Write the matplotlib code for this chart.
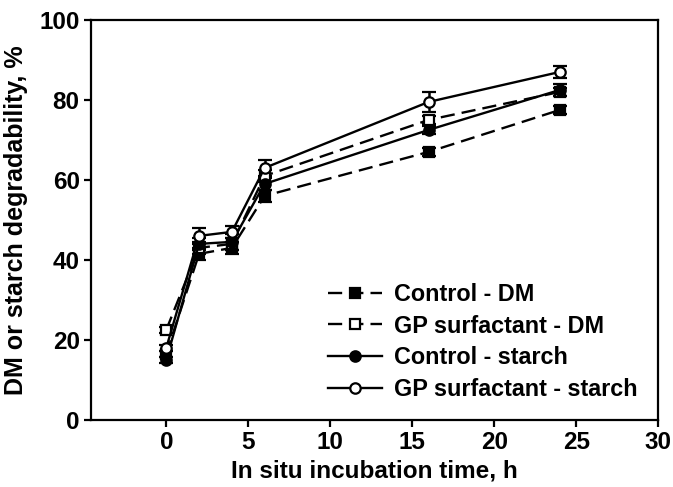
import matplotlib.pyplot as plt
import numpy as np

plt.rcParams['font.family'] = ['Liberation Sans', 'DejaVu Sans']
plt.rcParams['font.weight'] = 'bold'

# incubation times, h
times = [0, 2, 4, 6, 16, 24]

# mean degradability, %
control_dm = [16.5, 41.5, 43.0, 56.0, 67.0, 77.5]
gp_dm = [22.5, 43.0, 44.0, 61.0, 75.0, 82.0]
control_starch = [15.0, 44.0, 44.5, 59.0, 72.5, 82.5]
gp_starch = [18.0, 46.0, 47.0, 63.0, 79.5, 87.0]

# standard errors
control_dm_err = [0.8, 1.5, 1.5, 1.5, 1.0, 1.0]
gp_dm_err = [0.8, 1.5, 1.5, 1.5, 1.0, 1.0]
control_starch_err = [0.8, 1.5, 2.0, 1.5, 1.0, 1.5]
gp_starch_err = [0.8, 2.0, 1.5, 2.0, 2.5, 1.5]

labels = ["Control - DM", "GP surfactant - DM",
          "Control - starch", "GP surfactant - starch"]

fig = plt.figure(figsize=(6.73, 4.87), dpi=100)
ax = fig.add_axes([0.135, 0.138, 0.843, 0.821])

series = [
    (control_dm, control_dm_err, 's', 'black', (0, (6, 3))),
    (gp_dm, gp_dm_err, 's', 'white', (0, (6, 3))),
    (control_starch, control_starch_err, 'o', 'black', '-'),
    (gp_starch, gp_starch_err, 'o', 'white', '-'),
]

for (vals, errs, mk, fc, ls), lab in zip(series, labels):
    ax.errorbar(times, vals, yerr=errs, color='black', linestyle=ls,
                linewidth=1.7, marker=mk, markersize=7.5,
                markerfacecolor=fc, markeredgecolor='black',
                markeredgewidth=1.6, elinewidth=1.8, capsize=5,
                capthick=2.2, label=lab)

ax.set_xlim(-4.6, 30)
ax.set_ylim(0, 100)
ax.set_xticks([0, 5, 10, 15, 20, 25, 30])
ax.set_yticks([0, 20, 40, 60, 80, 100])
ax.tick_params(direction='out', length=5, width=1.6, labelsize=17.5, pad=3)
for sp in ax.spines.values():
    sp.set_linewidth(1.6)

ax.set_xlabel("In situ incubation time, h", fontsize=17.5, fontweight='bold',
              labelpad=4)
ax.set_ylabel("DM or starch degradability, %", fontsize=18,
              fontweight='bold', labelpad=8)

handles, labs = ax.get_legend_handles_labels()
handles = [h[0] for h in handles]
ax.legend(handles, labs, loc='lower right', bbox_to_anchor=(1.0, -0.005),
          frameon=False, handlelength=2.3, handletextpad=0.5,
          labelspacing=0.37, prop={'weight': 'bold', 'size': 16.8})

plt.savefig("out.png", dpi=100)
plt.close()
